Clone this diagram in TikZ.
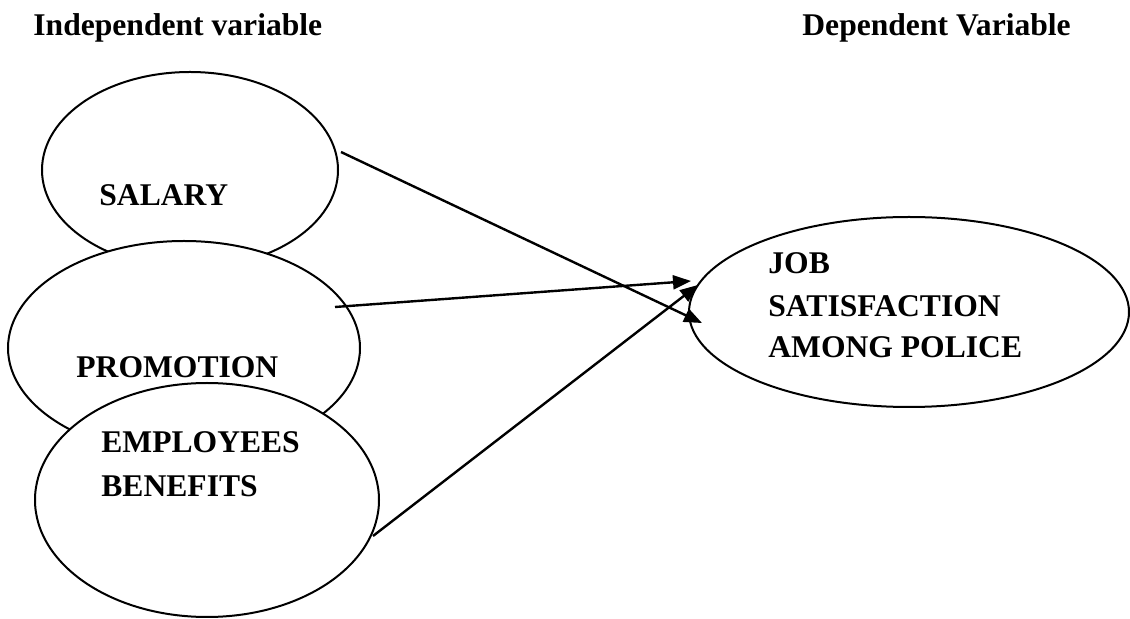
\documentclass[tikz,border=0pt]{standalone}
\usepackage{fontspec}
\setmainfont{Liberation Serif}
\usetikzlibrary{shapes.geometric,arrows.meta}
\tikzset{
  oval/.style={ellipse, draw=black, line width=1pt, fill=white, inner sep=0pt},
  lbl/.style={anchor=base west, inner sep=0pt, font=\fontsize{15.8}{19}\selectfont\bfseries},
  conn/.style={line width=1.2pt, -{Triangle[length=9pt,width=7pt]}}
}
\begin{document}
\begin{tikzpicture}[x=0.5pt,y=-0.5pt]
\useasboundingbox (0,0) rectangle (1130,619);
% headings
\node[lbl] (hind) at (33,36) {Independent variable};
\node[lbl] (hdep) at (802,36) {Dependent Variable};
% ellipses
\node[oval, minimum width=148pt, minimum height=98pt] (sal) at (190,170) {};
\node[oval, minimum width=176pt, minimum height=107pt] (pro) at (184,348) {};
\node[oval, minimum width=172pt, minimum height=117pt] (ben) at (207,500) {};
\node[oval, minimum width=220pt, minimum height=95pt] (job) at (909,312) {};
% labels
\node[lbl] (tsal) at (99,206) {SALARY};
\node[lbl] (tpro) at (76,378) {PROMOTION};
\node[lbl] (tben1) at (101,453) {EMPLOYEES};
\node[lbl] (tben2) at (101,497) {BENEFITS};
\node[lbl] (tjob1) at (768,274) {JOB};
\node[lbl] (tjob2) at (768,317) {SATISFACTION};
\node[lbl] (tjob3) at (768,358) {AMONG POLICE};
% connector end points
\coordinate (s1) at (341,152);
\coordinate (s2) at (702,323);
\coordinate (p1) at (335,307);
\coordinate (p2) at (691,281);
\coordinate (b1) at (373,536);
\coordinate (b2) at (698,285);
\draw[conn] (s1) -- (s2);
\draw[conn] (p1) -- (p2);
\draw[conn] (b1) -- (b2);
\end{tikzpicture}
\end{document}
